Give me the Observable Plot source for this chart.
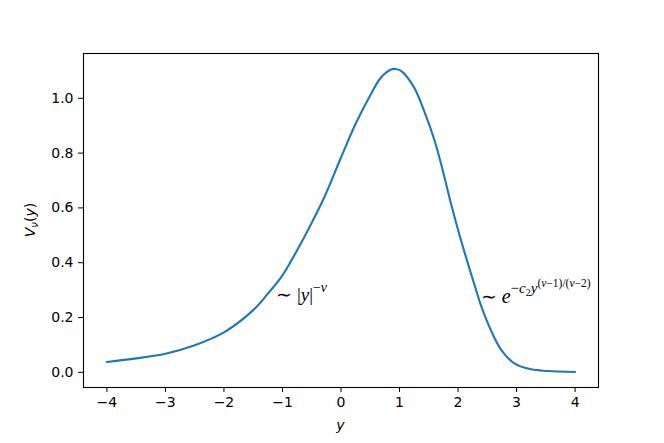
<!DOCTYPE html>
<html><head><meta charset="utf-8">
<script src="https://cdn.jsdelivr.net/npm/d3@7"></script>
<script src="https://cdn.jsdelivr.net/npm/@observablehq/plot@0.6"></script>
<style>body{margin:0;background:#fff}#chart{width:664px;height:443px}</style>
</head><body><div id="chart"></div>
<script>
const yValues = [-4, -3.5, -3, -2.5, -2, -1.5, -1.25, -1, -0.83, -0.57, -0.285, 0, 0.25, 0.51, 0.68, 0.855, 0.93, 1.026, 1.25, 1.42, 1.6, 1.74, 1.88, 2.02, 2.17, 2.31, 2.39, 2.56, 2.74, 2.96, 3.25, 3.53, 4];
const vValues = [0.038, 0.051, 0.068, 0.099, 0.146, 0.227, 0.287, 0.354, 0.415, 0.517, 0.639, 0.784, 0.907, 1.015, 1.075, 1.105, 1.107, 1.1, 1.039, 0.954, 0.845, 0.736, 0.615, 0.505, 0.396, 0.299, 0.245, 0.154, 0.081, 0.033, 0.011, 0.005, 0.001];
const xTicks = [-4, -3, -2, -1, 0, 1, 2, 3, 4];
const yTicks = [0, 0.2, 0.4, 0.6, 0.8, 1.0];
const annotations = [
  {x: -1.1, v: 0.26, kind: "power"},
  {x: 2.4, v: 0.25, kind: "exp"}
];

const data = yValues.map((y, i) => ({y, v: vValues[i]}));
const minus = d => d < 0 ? "\u2212" + Math.abs(d) : String(d);

const plot = Plot.plot({
  width: 664, height: 443,
  marginLeft: 83, marginRight: 66, marginTop: 53, marginBottom: 56,
  style: {fontFamily: "DejaVu Sans", fontSize: "14px", background: "white", color: "black", overflow: "visible"},
  x: {domain: [-4.4, 4.4]},
  y: {domain: [-0.0553, 1.1635]},
  marks: [
    Plot.line(data, {x: "y", y: "v", stroke: "#1f77b4", strokeWidth: 2.1, curve: "catmull-rom"}),
    Plot.frame({stroke: "black", strokeWidth: 1.1}),
    Plot.axisX({ticks: xTicks, tickSize: 5, tickPadding: 5, tickFormat: minus, label: null, stroke: "black", fill: "black"}),
    Plot.axisY({ticks: yTicks, tickSize: 5, tickPadding: 5, tickFormat: d => d.toFixed(1), label: null, stroke: "black", fill: "black"})
  ]
});
document.getElementById("chart").appendChild(plot);

const sx = plot.scale("x"), sy = plot.scale("y");
const svg = d3.select(plot);
const frameL = 83, frameR = 598, frameT = 53, frameB = 387;

// axis labels
svg.append("text").attr("x", (frameL + frameR) / 2).attr("y", 430)
  .attr("text-anchor", "middle").attr("font-family", "DejaVu Sans").attr("font-size", 14)
  .attr("font-style", "italic").text("y");

const yl = svg.append("text").attr("transform", `translate(35,${(frameT + frameB) / 2}) rotate(-90)`)
  .attr("text-anchor", "middle").attr("font-family", "DejaVu Sans").attr("font-size", 14);
yl.append("tspan").attr("font-style", "italic").text("V");
yl.append("tspan").attr("font-style", "italic").attr("font-size", 10).attr("dy", 3).text("ν");
yl.append("tspan").attr("dy", -3).text("(");
yl.append("tspan").attr("font-style", "italic").text("y");
yl.append("tspan").text(")");

// annotations
const mathFont = "Liberation Serif";
for (const a of annotations) {
  const t = svg.append("text").attr("x", sx.apply(a.x)).attr("y", sy.apply(a.v))
    .attr("text-anchor", "start")
    .attr("font-family", mathFont).attr("font-size", 19);
  if (a.kind === "power") {
    t.append("tspan").text("\u223C |");
    t.append("tspan").attr("font-style", "italic").text("y");
    t.append("tspan").text("|");
    t.append("tspan").attr("font-size", 14).attr("dy", -9).text("\u2212");
    t.append("tspan").attr("font-size", 14).attr("font-style", "italic").text("ν");
  } else {
    t.append("tspan").text("\u223C ");
    t.append("tspan").attr("font-style", "italic").attr("font-size", 20).text("e");
    t.append("tspan").attr("font-size", 15).attr("dy", -10).text("\u2212");
    t.append("tspan").attr("font-size", 15).attr("font-style", "italic").text("c");
    t.append("tspan").attr("font-size", 10).attr("dy", 3).text("2");
    t.append("tspan").attr("font-size", 15).attr("font-style", "italic").attr("dy", -3).text("y");
    t.append("tspan").attr("font-size", 11.5).attr("dy", -6).text("(");
    t.append("tspan").attr("font-size", 11.5).attr("font-style", "italic").text("ν");
    t.append("tspan").attr("font-size", 11.5).text("\u22121)/(");
    t.append("tspan").attr("font-size", 11.5).attr("font-style", "italic").text("ν");
    t.append("tspan").attr("font-size", 11.5).text("\u22122)");
  }
}
</script>
</body></html>
